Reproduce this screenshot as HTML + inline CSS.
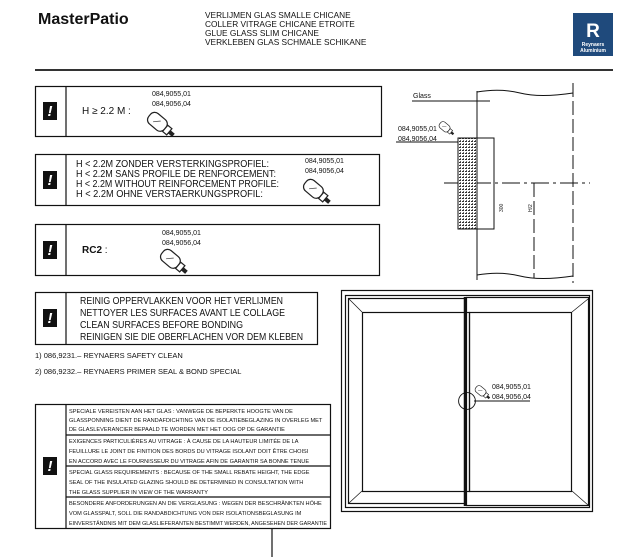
<!DOCTYPE html>
<html><head><meta charset="utf-8"><style>
html,body{margin:0;padding:0;background:#fff}
svg{display:block}
text{font-family:"Liberation Sans",sans-serif;fill:#111}
</style></head><body>
<svg width="628" height="557" viewBox="0 0 628 557" xmlns="http://www.w3.org/2000/svg">
<defs>
<pattern id="hatch" width="3" height="3" patternUnits="userSpaceOnUse">
<rect width="3" height="3" fill="#fff"/><rect width="2" height="1" fill="#333"/><rect y="2" x="1" width="1" height="1" fill="#666"/>
</pattern>
<g id="bottle">
<g transform="rotate(-50)">
<rect x="-5" y="-10" width="10" height="15" rx="4" fill="#fff" stroke="#222" stroke-width="0.9"/>
<rect x="-3" y="5" width="6" height="4" fill="#fff" stroke="#222" stroke-width="0.9"/>
<rect x="-1.5" y="9" width="3" height="4" fill="#222"/>
<line x1="-2" y1="-5" x2="2" y2="-1" stroke="#555" stroke-width="0.6"/>
</g>
</g>
<g id="bang">
<rect x="0" y="0" width="14" height="18" fill="#111"/>
<text x="7" y="14" font-size="15" font-weight="bold" text-anchor="middle" style="fill:#fff;font-style:italic">!</text>
</g>
</defs>

<!-- header -->
<text x="38" y="24" font-size="16" font-weight="bold">MasterPatio</text>
<g font-size="8.3">
<text x="205" y="18">VERLIJMEN GLAS SMALLE CHICANE</text>
<text x="205" y="27">COLLER VITRAGE CHICANE ETROITE</text>
<text x="205" y="36">GLUE GLASS SLIM CHICANE</text>
<text x="205" y="45">VERKLEBEN GLAS SCHMALE SCHIKANE</text>
</g>
<rect x="573" y="13" width="40" height="43" fill="#1f4a7c"/>
<text x="593" y="37" font-size="19" font-weight="bold" text-anchor="middle" style="fill:#fff">R</text>
<text x="593" y="46" font-size="5" font-weight="bold" text-anchor="middle" style="fill:#fff">Reynaers</text>
<text x="593" y="52" font-size="5" font-weight="bold" text-anchor="middle" style="fill:#fff">Aluminium</text>
<line x1="35" y1="70" x2="613" y2="70" stroke="#333" stroke-width="2"/>

<g stroke="#111" stroke-width="1.2" fill="none">
<rect x="35.5" y="86.5" width="346" height="50"/><line x1="66" y1="86" x2="66" y2="137"/>
<rect x="35.5" y="154.5" width="344" height="51"/><line x1="66" y1="154" x2="66" y2="206"/>
<rect x="35.5" y="224.5" width="344" height="51"/><line x1="66" y1="224" x2="66" y2="276"/>
<rect x="35.5" y="292.5" width="282" height="52"/><line x1="66" y1="292" x2="66" y2="345"/>
<rect x="35.5" y="404.5" width="295" height="124"/><line x1="66" y1="404" x2="66" y2="529"/>
<line x1="66" y1="435" x2="331" y2="435"/><line x1="66" y1="466" x2="331" y2="466"/><line x1="66" y1="497" x2="331" y2="497"/>
<line x1="272" y1="529" x2="272" y2="557"/>
</g>
<use href="#bang" x="43" y="102"/>
<use href="#bang" x="43" y="171"/>
<use href="#bang" x="43" y="241"/>
<use href="#bang" x="43" y="309"/>
<use href="#bang" x="43" y="457"/>

<text x="82" y="114" font-size="10">H ≥ 2.2 M :</text>
<g font-size="7"><text x="152" y="96">084,9055,01</text><text x="152" y="106">084,9056,04</text></g>
<g transform="translate(160,124) scale(1.35)"><use href="#bottle"/></g>

<g font-size="10">
<text x="76" y="167" textLength="193" lengthAdjust="spacingAndGlyphs">H &lt; 2.2M ZONDER VERSTERKINGSPROFIEL:</text>
<text x="76" y="177" textLength="200" lengthAdjust="spacingAndGlyphs">H &lt; 2.2M SANS PROFILE DE RENFORCEMENT:</text>
<text x="76" y="187" textLength="203" lengthAdjust="spacingAndGlyphs">H &lt; 2.2M WITHOUT REINFORCEMENT PROFILE:</text>
<text x="76" y="197" textLength="187" lengthAdjust="spacingAndGlyphs">H &lt; 2.2M OHNE VERSTAERKUNGSPROFIL:</text>
</g>
<g font-size="7"><text x="305" y="163">084,9055,01</text><text x="305" y="173">084,9056,04</text></g>
<g transform="translate(316,191) scale(1.35)"><use href="#bottle"/></g>

<text x="82" y="253" font-size="10" font-weight="bold">RC2 <tspan font-weight="normal">:</tspan></text>
<g font-size="7"><text x="162" y="235">084,9055,01</text><text x="162" y="245">084,9056,04</text></g>
<g transform="translate(173,261) scale(1.35)"><use href="#bottle"/></g>

<g font-size="10.5">
<text x="80" y="304" textLength="203" lengthAdjust="spacingAndGlyphs">REINIG OPPERVLAKKEN VOOR HET VERLIJMEN</text>
<text x="80" y="316" textLength="205" lengthAdjust="spacingAndGlyphs">NETTOYER LES SURFACES AVANT LE COLLAGE</text>
<text x="80" y="328" textLength="163" lengthAdjust="spacingAndGlyphs">CLEAN SURFACES BEFORE BONDING</text>
<text x="80" y="340" textLength="223" lengthAdjust="spacingAndGlyphs">REINIGEN SIE DIE OBERFLACHEN VOR DEM KLEBEN</text>
</g>
<g font-size="7.5">
<text x="35" y="358">1) 086,9231.– REYNAERS SAFETY CLEAN</text>
<text x="35" y="374">2) 086,9232.– REYNAERS PRIMER SEAL &amp; BOND SPECIAL</text>
</g>
<g font-size="5.6">
<text x="69" y="413">SPECIALE VEREISTEN AAN HET GLAS : VANWEGE DE BEPERKTE HOOGTE VAN DE</text>
<text x="69" y="422">GLASSPONNING DIENT DE RANDAFDICHTING VAN DE ISOLATIEBEGLAZING IN OVERLEG MET</text>
<text x="69" y="431">DE GLASLEVERANCIER BEPAALD TE WORDEN MET HET OOG OP DE GARANTIE</text>
<text x="69" y="443">EXIGENCES PARTICULIÈRES AU VITRAGE : À CAUSE DE LA HAUTEUR LIMITÉE DE LA</text>
<text x="69" y="453">FEUILLURE LE JOINT DE FINITION DES BORDS DU VITRAGE ISOLANT DOIT ÊTRE CHOISI</text>
<text x="69" y="463">EN ACCORD AVEC LE FOURNISSEUR DU VITRAGE AFIN DE GARANTIR SA BONNE TENUE</text>
<text x="69" y="474">SPECIAL GLASS REQUIREMENTS : BECAUSE OF THE SMALL REBATE HEIGHT, THE EDGE</text>
<text x="69" y="484">SEAL OF THE INSULATED GLAZING SHOULD BE DETERMINED IN CONSULTATION WITH</text>
<text x="69" y="494">THE GLASS SUPPLIER IN VIEW OF THE WARRANTY</text>
<text x="69" y="505">BESONDERE ANFORDERUNGEN AN DIE VERGLASUNG : WEGEN DER BESCHRÄNKTEN HÖHE</text>
<text x="69" y="515">VOM GLASSPALT, SOLL DIE RANDABDICHTUNG VON DER ISOLATIONSBEGLASUNG IM</text>
<text x="69" y="525" textLength="258" lengthAdjust="spacingAndGlyphs">EINVERSTÄNDNIS MIT DEM GLASLIEFERANTEN BESTIMMT WERDEN, ANGESEHEN DER GARANTIE</text>
</g>

<!-- right detail -->
<text x="413" y="98" font-size="7">Glass</text>
<g stroke="#111" stroke-width="1" fill="none">
<line x1="412" y1="101" x2="490" y2="101"/>
<line x1="477" y1="91" x2="477" y2="280"/>
<path d="M477 92 Q500 88 520 93 T573 93"/>
<path d="M477 275 Q500 271 520 276 T573 276"/>
<line x1="573" y1="83" x2="573" y2="283" stroke-dasharray="14,4"/>
<line x1="396" y1="142" x2="458" y2="142"/>
<line x1="444" y1="183" x2="590" y2="183" stroke-dasharray="18,4,3,4"/>
<polyline points="477,138 494,138 494,229 477,229"/>
<line x1="534" y1="183" x2="534" y2="278" stroke-dasharray="14,4"/>
</g>
<rect x="458" y="138" width="19" height="91" fill="url(#hatch)" stroke="#111" stroke-width="1"/>
<g font-size="7"><text x="398" y="131">084,9055,01</text><text x="398" y="141">084,9056,04</text></g>
<g transform="translate(446,128) scale(0.75)"><use href="#bottle"/></g>
<text x="0" y="0" font-size="5" transform="translate(503,212) rotate(-90)">300</text>
<text x="0" y="0" font-size="5" transform="translate(532,212) rotate(-90)">H/2</text>

<!-- window -->
<g stroke="#111" stroke-width="1.2" fill="none">
<rect x="341.5" y="290.5" width="251" height="221"/>
<rect x="345.5" y="295.5" width="244" height="212"/>
<rect x="348.5" y="298.5" width="117" height="205"/>
<rect x="466.5" y="297.5" width="122" height="208"/>
<rect x="362.5" y="312.5" width="107" height="179"/>
<rect x="469.5" y="312.5" width="102" height="179"/>
<line x1="465" y1="297" x2="465" y2="506" stroke-width="2.5"/>
<line x1="349" y1="299" x2="362" y2="312" stroke-width="0.7"/>
<line x1="349" y1="503" x2="362" y2="491" stroke-width="0.7"/>
<line x1="588" y1="299" x2="572" y2="312" stroke-width="0.7"/>
<line x1="588" y1="505" x2="572" y2="491" stroke-width="0.7"/>
<circle cx="467" cy="401" r="8.4" stroke-width="0.9"/>
<line x1="474" y1="401" x2="530" y2="401" stroke-width="1"/>
</g>
<g font-size="7"><text x="492" y="389">084,9055,01</text><text x="492" y="399">084,9056,04</text></g>
<g transform="translate(482,392) scale(0.75)"><use href="#bottle"/></g>
</svg>
</body></html>
